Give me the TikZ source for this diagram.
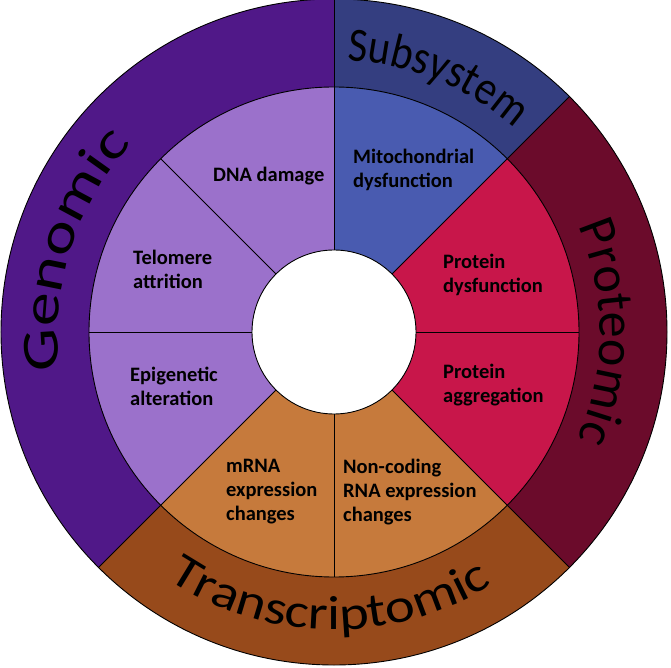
\documentclass[tikz,border=0pt]{standalone}
\usepackage{fontspec}
\setmainfont{Carlito}
\newfontfamily\genfont[FakeStretch=1.3]{Carlito}
\newfontfamily\subfont[FakeStretch=0.875]{Carlito}
\newfontfamily\profont{Carlito}
\newfontfamily\trafont[FakeStretch=1.18]{Carlito}
\usetikzlibrary{decorations.text}

\definecolor{genout}{HTML}{501888}
\definecolor{subout}{HTML}{343E80}
\definecolor{proout}{HTML}{6B0B2B}
\definecolor{traout}{HTML}{974A1B}
\definecolor{genin}{HTML}{9B71CB}
\definecolor{subin}{HTML}{495BB0}
\definecolor{proin}{HTML}{C8164A}
\definecolor{train}{HTML}{C67A3C}

\newcommand{\genfmt}{\genfont\fontsize{52}{60}\selectfont}
\newcommand{\subfmt}{\subfont\fontsize{48}{56}\selectfont}
\newcommand{\profmt}{\profont\fontsize{52}{60}\selectfont}
\newcommand{\trafmt}{\trafont\fontsize{48}{56}\selectfont}

\tikzset{
  lbl/.style={anchor=west,align=left,inner sep=0pt,font=\bfseries\fontsize{20.5}{24}\selectfont},
  rim/.style={draw=black,line width=0.9pt},
  ringtext/.style={decorate,decoration={text along path,text align={fit to path},text={#1}}}
}

\begin{document}
\begin{tikzpicture}[x=1pt,y=1pt]
\useasboundingbox (-334,-336) rectangle (337,332);

% outer ring
\fill[genout] (0,0) -- (90:333pt) arc[start angle=90,end angle=225,radius=333pt] -- cycle;
\fill[subout] (0,0) -- (45:333pt) arc[start angle=45,end angle=90,radius=333pt] -- cycle;
\fill[proout] (0,0) -- (-45:333pt) arc[start angle=-45,end angle=45,radius=333pt] -- cycle;
\fill[traout] (0,0) -- (225:333pt) arc[start angle=225,end angle=315,radius=333pt] -- cycle;

% inner ring
\fill[genin] (0,0) -- (90:245pt) arc[start angle=90,end angle=225,radius=245pt] -- cycle;
\fill[subin] (0,0) -- (45:245pt) arc[start angle=45,end angle=90,radius=245pt] -- cycle;
\fill[proin] (0,0) -- (-45:245pt) arc[start angle=-45,end angle=45,radius=245pt] -- cycle;
\fill[train] (0,0) -- (225:245pt) arc[start angle=225,end angle=315,radius=245pt] -- cycle;

% hole
\fill[white] (0,0) circle[radius=82pt];

% lines
\draw[rim] (0,0) circle[radius=333pt];
\draw[rim] (0,0) circle[radius=245pt];
\draw[rim] (0,0) circle[radius=82pt];
\foreach \a in {45,90,225,315}
  \draw[rim] (\a:245pt) -- (\a:333pt);
\foreach \a in {0,45,...,315}
  \draw[rim] (\a:82pt) -- (\a:245pt);

% ring titles
\path[ringtext={|\genfmt|Genomic}] (188:276pt) arc[start angle=188,end angle=137,radius=276pt];
\path[ringtext={|\subfmt|Subsystem}] (87.2:272pt) arc[start angle=87.2,end angle=48.5,radius=272pt];
\path[ringtext={|\profmt|Proteomic}] (23.5:266pt) arc[start angle=23.5,end angle=-23.5,radius=266pt];
\path[ringtext={|\trafmt|Transcriptomic}] (236:298pt) arc[start angle=236,end angle=302,radius=298pt];

% sector labels
\node[lbl] (dna) at (-121,156) {DNA damage};
\node[lbl] (mito) at (19,162) {Mitochondrial\\dysfunction};
\node[lbl] (telo) at (-201,63) {Telomere\\attrition};
\node[lbl] (pdys) at (109,57) {Protein\\dysfunction};
\node[lbl] (epi) at (-204,-54) {Epigenetic\\alteration};
\node[lbl] (pagg) at (109,-53) {Protein\\aggregation};
\node[lbl] (mrna) at (-108,-160) {mRNA\\expression\\changes};
\node[lbl] (ncrna) at (9,-160) {Non-coding\\RNA expression\\changes};
\end{tikzpicture}
\end{document}
